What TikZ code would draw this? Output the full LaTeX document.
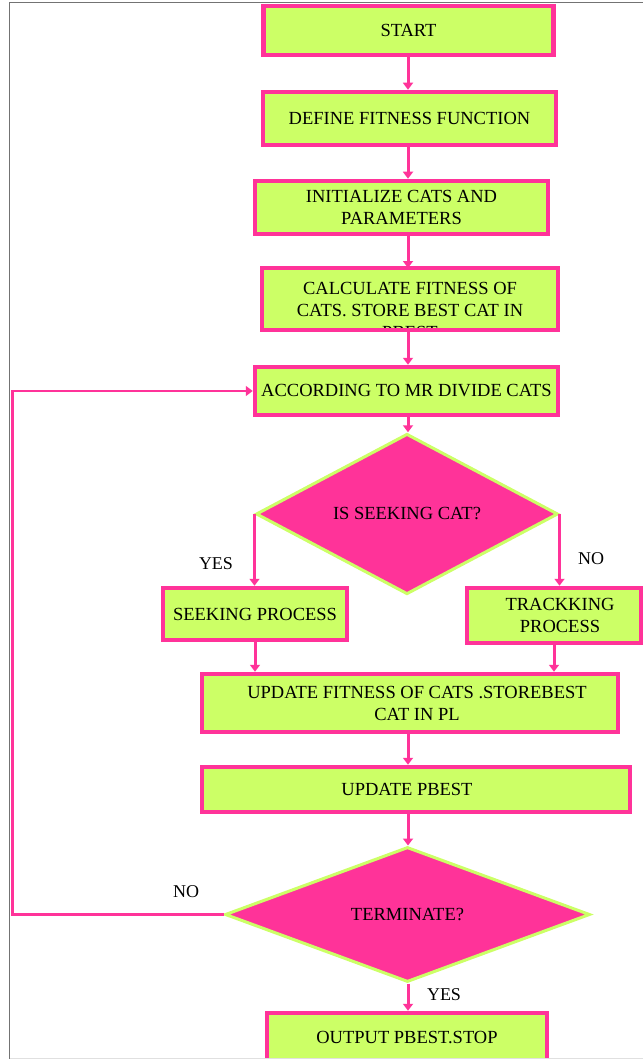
\documentclass[tikz,border=0pt]{standalone}
\usepackage{fontspec}
\setmainfont{Liberation Serif}
\usetikzlibrary{shapes.geometric,arrows.meta}
\definecolor{fpink}{RGB}{255,51,153}
\definecolor{fgreen}{RGB}{204,255,102}
\begin{document}
\begin{tikzpicture}[x=1pt,y=-1pt,
 box/.style={rectangle, draw=fpink, fill=fgreen, line width=4.5pt, inner sep=0pt, align=center, font=\fontsize{18.5}{22}\selectfont},
 dec/.style={diamond, draw=fgreen, fill=fpink, line width=3pt, inner sep=0pt, font=\fontsize{18.5}{22}\selectfont},
 flow/.style={draw=fpink, line width=3pt, -{Triangle[width=10pt,length=7pt]}},
 loopline/.style={draw=fpink, line width=2.5pt, -{Triangle[width=10pt,length=7pt]}},
 lbl/.style={font=\fontsize{18}{22}\selectfont, inner sep=0pt}]
\useasboundingbox (0,0) rectangle (643,1059);
\coordinate (axis) at (408,0);
\coordinate (loopx) at (12.5,0);

\node[box, minimum width=290pt, minimum height=49pt] (start) at (408.5,30.5) {START};
\node[box, minimum width=293pt, minimum height=53pt] (def) at (409.5,118.5) {DEFINE FITNESS FUNCTION};
\node[box, minimum width=293pt, minimum height=53pt] (init) at (401.5,207.5) {INITIALIZE CATS AND\\PARAMETERS};
\node[box, outer sep=0pt, minimum width=296pt, minimum height=62pt] (calc) at (410,299) {};
\begin{scope}
\clip (calc.north west) rectangle (calc.south east);
\node[align=center, inner sep=0pt, font=\fontsize{18.5}{22}\selectfont] (calct) at (410,310) {CALCULATE FITNESS OF\\CATS. STORE BEST CAT IN\\PBEST};
\end{scope}
\draw[fpink, line width=4.5pt] (calc.north west) rectangle (calc.south east);
\node[box, minimum width=303pt, minimum height=48pt] (acc) at (406.5,391) {ACCORDING TO MR DIVIDE CATS};
\node[dec, minimum width=302pt, minimum height=125pt] (d1) at (407,514) {IS SEEKING CAT?};
\node[box, minimum width=184pt, minimum height=52pt] (seek) at (255,614) {SEEKING PROCESS};
\node[box, minimum width=174pt, minimum height=55pt] (trk) at (554,615.5) {\hspace*{12pt}TRACKKING\\\hspace*{12pt}PROCESS};
\node[box, minimum width=416pt, minimum height=58pt] (upd) at (410,703) {\hspace*{14pt}UPDATE FITNESS OF CATS .STOREBEST\\\hspace*{14pt}CAT IN PL};
\node[box, minimum width=428pt, minimum height=45pt] (pb) at (416,789.5) {UPDATE PBEST\hspace*{18pt}};
\node[dec, minimum width=365pt, minimum height=135pt] (d2) at (407.5,914.5) {TERMINATE?};
\node[box, minimum width=280pt, minimum height=49pt] (out) at (407,1037.5) {OUTPUT PBEST.STOP};

\node[lbl] (yes1) at (216,564) {YES};
\node[lbl] (no1) at (591,559) {NO};
\node[lbl] (no2) at (186,892) {NO};
\node[lbl] (yes2) at (444,995) {YES};

\draw[flow] (start.south -| axis) -- (def.north -| axis);
\draw[flow] (def.south -| axis) -- (init.north -| axis);
\draw[flow] (init.south -| axis) -- (calc.north -| axis);
\draw[flow] (calc.south -| axis) -- (acc.north -| axis);
\draw[flow] (acc.south -| axis) -- (d1.north -| axis);
\draw[flow] (d1.west) -- (d1.west |- seek.north);
\draw[flow] (d1.east) -- (d1.east |- trk.north);
\draw[flow] (seek.south) -- (seek.south |- upd.north);
\draw[flow] (trk.south) -- (trk.south |- upd.north);
\draw[flow] (upd.south -| axis) -- (pb.north -| axis);
\draw[flow] (pb.south -| axis) -- (d2.north -| axis);
\draw[flow] (d2.south -| axis) -- (out.north -| axis);
\draw[loopline] (d2.west) -- (d2.west -| loopx) |- (acc.west);

\draw[black!55, line width=1.2pt] (9.5,1059) -- (9.5,2.5) -- (643,2.5);
\draw[black!12, line width=1pt] (9.5,1058.5) -- (643,1058.5);
\end{tikzpicture}
\end{document}
